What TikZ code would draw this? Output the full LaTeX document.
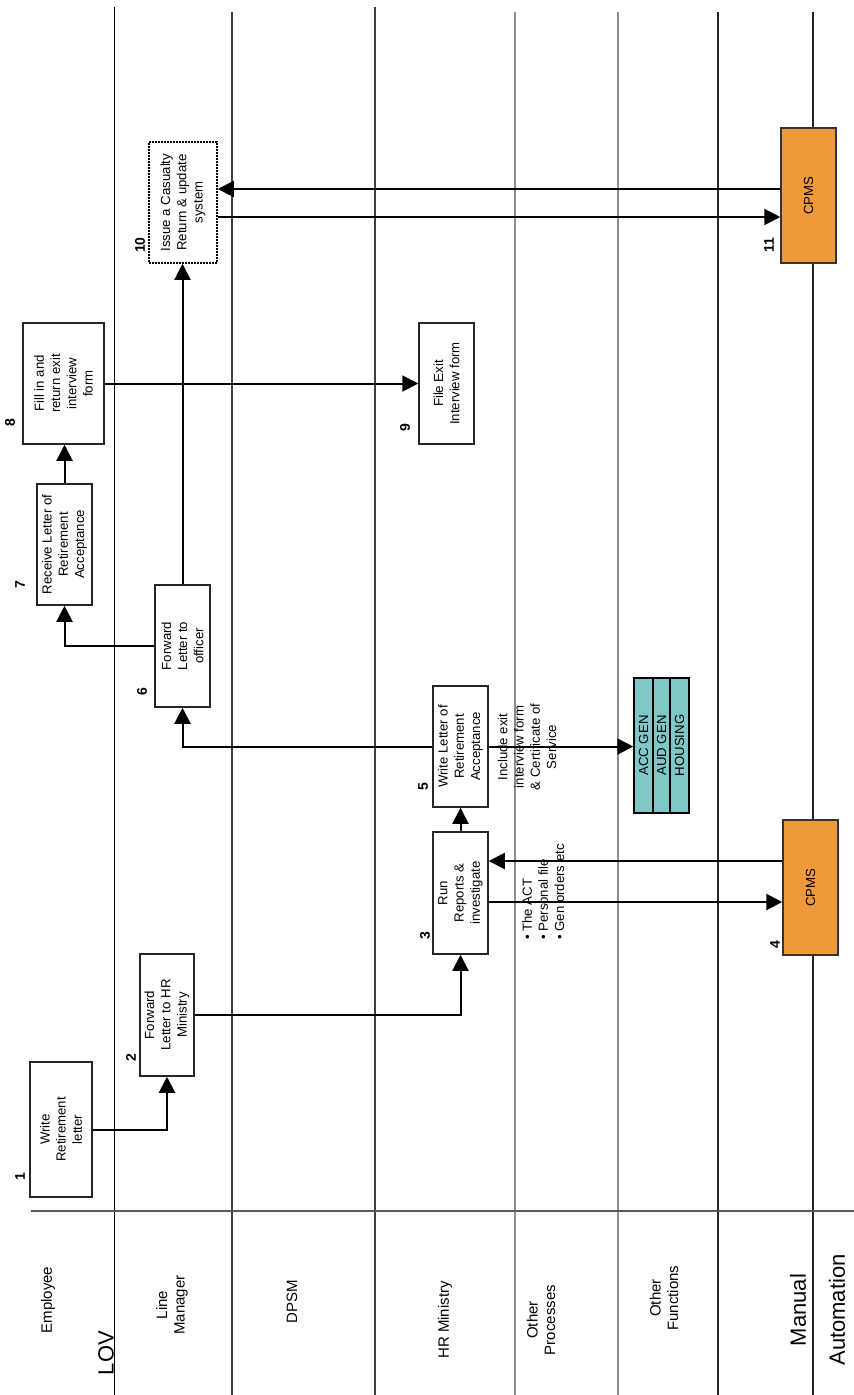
\documentclass[tikz,border=0pt]{standalone}
\usepackage{fontspec}
\setmainfont{Liberation Sans}
\usetikzlibrary{arrows.meta,calc}
\begin{document}
\begin{tikzpicture}[x=1pt,y=-1pt,
  box/.style={draw=black!85, line width=1.5pt, fill=white, inner sep=0pt},
  dotbox/.style={draw=black, line width=1.5pt, dash pattern=on 1.6pt off 1.4pt, fill=white, inner sep=0pt},
  cpms/.style={draw=black!80, line width=1.5pt, inner sep=0pt},
  accbox/.style={draw=black, line width=1.5pt, inner sep=0pt},
  txt/.style={rotate=90, align=center, font=\fontsize{13.2}{16.2}\selectfont, inner sep=0pt},
  num/.style={rotate=90, font=\fontsize{14}{16}\selectfont\bfseries, inner sep=0pt},
  lanetxt/.style={rotate=90, align=center, font=\fontsize{15}{17.5}\selectfont, inner sep=0pt},
  bigtxt/.style={rotate=90, font=\fontsize{22}{24}\selectfont, inner sep=0pt},
  laneline/.style={line width=1.2pt, draw=black!75},
  conn/.style={line width=2pt, draw=black},
  arr/.style={conn, -{Triangle[length=16pt,width=16pt]}}
]
\useasboundingbox (0,0) rectangle (854,1395);
\definecolor{cpmsorange}{HTML}{EE9A3A}
\definecolor{accteal}{HTML}{80C8C8}

% lane separators
\draw[line width=1pt, black] (114,7) -- (114,1395);
\draw[laneline] (232,12) -- (232,1395);
\draw[line width=1.6pt, draw=black!75] (375,7) -- (375,1395);
\draw[line width=1.6pt, draw=black!45] (515,12) -- (515,1395);
\draw[line width=1.6pt, draw=black!45] (618,12) -- (618,1395);
\draw[laneline, draw=black!85] (718,12) -- (718,1395);
\draw[laneline, draw=black!85] (813,12) -- (813,1395);
\draw[line width=1.6pt, draw=black!65] (31,1211) -- (854,1211);

% lane labels
\node[lanetxt] (lEmp) at (48,1300) {Employee};
\node[lanetxt] (lLM) at (172,1305) {Line\\Manager};
\node[lanetxt] (lDPSM) at (292,1302) {DPSM};
\node[lanetxt] (lHR) at (445,1320) {HR Ministry};
\node[lanetxt] (lOP) at (541,1320) {Other\\Processes};
\node[lanetxt] (lOF) at (664,1298) {Other\\Functions};
\node[bigtxt] (lMan) at (798,1310) {Manual};
\node[bigtxt] (lAuto) at (837,1310) {Automation};
\node[bigtxt] (lLOV) at (106,1353) {LOV};

% boxes
\node[box, minimum width=62, minimum height=135] (b1) at (61,1129.5) {};
\node[box, minimum width=54, minimum height=122] (b2) at (167,1015) {};
\node[box, minimum width=55, minimum height=122] (b3) at (460.5,893) {};
\node[box, minimum width=55, minimum height=121] (b5) at (460.5,746.5) {};
\node[box, minimum width=55, minimum height=122] (b6) at (182.5,646) {};
\node[box, minimum width=55, minimum height=121] (b7) at (64.5,544.5) {};
\node[box, minimum width=81, minimum height=121] (b8) at (63.5,383.5) {};
\node[box, minimum width=55, minimum height=121] (b9) at (446.5,383.5) {};
\node[dotbox, minimum width=68, minimum height=121] (b10) at (183,202.5) {};
\node[cpms, fill=cpmsorange, minimum width=55, minimum height=135] (c11) at (808.5,195.5) {};
\node[cpms, fill=cpmsorange, minimum width=55, minimum height=135] (c4) at (810.5,887.5) {};
\node[accbox, fill=accteal, minimum width=19, minimum height=135] (acc1) at (643.5,745.5) {};
\node[accbox, fill=accteal, minimum width=17, minimum height=135] (acc2) at (661.5,745.5) {};
\node[accbox, fill=accteal, minimum width=19, minimum height=135] (acc3) at (679.5,745.5) {};

% box texts
\node[txt] (t1) at (b1) {Write\\Retirement\\letter};
\node[txt] (t2) at (b2) {Forward\\Letter to HR\\Ministry};
\node[txt] (t3) at (b3) {Run\\Reports \&\\investigate};
\node[txt] (t5) at (b5) {Write Letter of\\Retirement\\Acceptance};
\node[txt] (t6) at (b6) {Forward\\Letter to\\officer};
\node[txt] (t7) at (b7) {Receive Letter of\\Retirement\\Acceptance};
\node[txt] (t8) at (b8) {Fill in and\\return exit\\interview\\form};
\node[txt] (t9) at (b9) {File Exit\\Interview form};
\node[txt] (t10) at (b10) {Issue a Casualty\\Return \& update\\system};
\node[txt] (t11) at (c11) {CPMS};
\node[txt] (t4) at (c4) {CPMS};
\node[txt] (ta1) at (acc1) {ACC GEN};
\node[txt] (ta2) at (acc2) {AUD GEN};
\node[txt] (ta3) at (acc3) {HOUSING};

% numbers
\node[num] (n1) at (20,1177) {1};
\node[num] (n2) at (131,1058) {2};
\node[num] (n3) at (425,936) {3};
\node[num] (n4) at (775,945) {4};
\node[num] (n5) at (423,787) {5};
\node[num] (n6) at (142,692) {6};
\node[num] (n7) at (20,585) {7};
\node[num] (n8) at (10,423) {8};
\node[num] (n9) at (405,428) {9};
\node[num] (n10) at (140,245) {10};
\node[num] (n11) at (769,245) {11};

% connectors
\draw[arr] (b1.east) -| (b2.south);
\draw[arr] (b2.east) -| (b3.south);
\draw[arr] (b3.north) -- (b5.south);
\draw[arr] (b3.east |- 0,902) -- (c4.west |- 0,902);
\draw[arr] (c4.west |- 0,861) -- (b3.east |- 0,861);
\draw[arr] (b5.east) -- (acc1.west |- b5.east);
\draw[arr] (b5.west) -| (b6.south);
\draw[arr] (b6.west) -| (b7.south);
\draw[arr] (b6.north) -- (b6.north |- b10.south);
\draw[arr] (b7.north) -- (b7.north |- b8.south);
\draw[arr] (b8.east) -- (b9.west);
\draw[arr] (c11.west |- 0,189) -- (b10.east |- 0,189);
\draw[arr] (b10.east |- 0,217) -- (c11.west |- 0,217);

% annotations
\node[txt] (inc) at (527,747) {Include exit\\interview form\\\& Certificate of\\Service};
\node[txt, align=left, anchor=north west] (bul) at (522,940) {\textbullet\ The ACT\\\textbullet\ Personal file\\\textbullet\ Gen orders etc};
\end{tikzpicture}
\end{document}
